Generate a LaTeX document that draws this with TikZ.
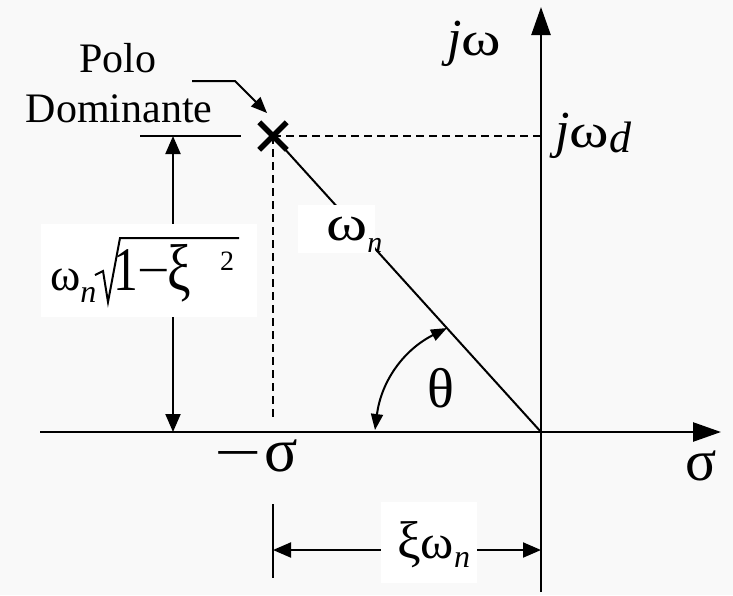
\documentclass[tikz,border=0pt]{standalone}
\usepackage{fontspec}
\setmainfont{Liberation Serif}
\usetikzlibrary{arrows.meta,shapes.misc}
\definecolor{bgc}{HTML}{F9F9F9}
% stretched omega: #1 font size, #2 horizontal scale
\newcommand{\gw}[2]{\scalebox{#2}[1]{\fontsize{#1}{#1}\selectfont ω}}
% subscript: #1 size, #2 lowering (pt), #3 text
\newcommand{\mysub}[3]{\raisebox{-#2pt}{\fontsize{#1}{#1}\selectfont\textit{#3}}}
\newcommand{\fs}[1]{\fontsize{#1}{#1}\selectfont}
\begin{document}
\begin{tikzpicture}[x=1pt,y=-1pt,
  axis/.style={line width=2.5pt,-{Triangle[length=28pt,width=19pt]}},
  thinline/.style={line width=2pt},
  dashline/.style={line width=1.6pt,dash pattern=on 8pt off 5pt},
  dimline/.style={line width=2pt,{Triangle[length=18pt,width=15pt]}-{Triangle[length=18pt,width=15pt]}},
  anglearrow/.style={line width=2pt,{Triangle[length=16pt,width=12pt]}-{Triangle[length=16pt,width=12pt]}},
  ptr/.style={line width=2pt,-{Triangle[length=16pt,width=13pt]}},
  wbox/.style={fill=white,draw=none,inner sep=0pt},
  txt/.style={inner sep=0pt,font=\fs{42}},
  gtxt/.style={inner sep=0pt,font=\fs{52}}]
\fill[bgc] (0,0) rectangle (733,595);
\useasboundingbox (0,0) rectangle (733,595);
% key points
\coordinate (O) at (541,432);
\coordinate (P) at (273,136);
\coordinate (xl) at (40,432);
\coordinate (xr) at (721,432);
\coordinate (yb) at (541,592);
\coordinate (yt) at (541,7);
% axes
\draw[axis] (xl) -- (xr);
\draw[axis] (yb) -- (yt);
% dashed projections
\coordinate (Pd) at (P -| O);
\coordinate (Pv) at (273,418);
\draw[dashline] (P) -- (Pd);
\draw[dashline] (P) -- (Pv);
% radius line
\draw[thinline] (P) -- (O);
\node[wbox,minimum width=77pt,minimum height=48pt] (wbx) at (336.5,229) {};
% pole cross
\node[cross out,draw,line width=5.5pt,minimum size=22pt,inner sep=0pt] (pole) at (P) {};
% left dimension
\coordinate (hl) at (140,136);
\coordinate (hr) at (241,136);
\draw[thinline] (hl) -- (hr);
\coordinate (dt) at (173,136);
\coordinate (db) at (173,432);
\draw[dimline] (dt) -- (db);
\node[wbox,minimum width=216pt,minimum height=93pt] (lbox) at (149,270.5) {};
% bottom dimension
\coordinate (vt) at (273,504);
\coordinate (vb) at (273,578);
\draw[thinline] (vt) -- (vb);
\coordinate (bl) at (273,550);
\coordinate (br) at (541,550);
\draw[dimline] (bl) -- (br);
\node[wbox,minimum width=96pt,minimum height=81pt] (xbox) at (429,542.5) {};
% angle arc
\coordinate (a1) at (375,430);
\coordinate (a2) at (447,328);
\draw[anglearrow] (a1) to[bend left=28] (a2);
% pointer to pole
\coordinate (p1) at (192,81);
\coordinate (p2) at (235,81);
\coordinate (p3) at (267,113);
\draw[ptr] (p1) -- (p2) -- (p3);
% texts
\node[txt,anchor=base] (polo) at (118,72) {Polo};
\node[txt,anchor=base] (dom) at (119,122) {Dominante};
\node[gtxt,anchor=base west] (jw) at (447,55) {\textit{j}\gw{48}{1.25}};
\node[gtxt,anchor=base west] (jwd) at (555,147) {\textit{j}\gw{48}{1.25}\mysub{44}{5}{d}};
\node[inner sep=0pt,anchor=base] (sig) at (701,480) {\fs{58}σ};
\node[inner sep=0pt,anchor=base west] (msig) at (214,471) {\scalebox{1.5}[1]{\fs{56}−}\hspace{3pt}\fs{62}σ};
\node[inner sep=0pt,anchor=base] (th) at (441,407) {\fs{56}θ};
\node[gtxt,anchor=base west] (wn) at (326,240) {\gw{50}{1.25}\mysub{30}{12}{n}};
\node[gtxt,anchor=base west] (xw) at (397,558) {\fs{53}ξ\gw{48}{1.05}\mysub{32}{9}{n}};
% left label: omega_n sqrt(1 - xi^2)
\node[gtxt,anchor=base west] (lw) at (50,290) {\gw{46}{1.0}\mysub{32}{12}{n}};
\draw[line width=2pt,line join=miter] (95,275) -- (103,271) -- (108,302) -- (120,238) -- (239,238);
\node[inner sep=0pt,anchor=base west] (rad) at (113,290) {\scalebox{0.8}[1]{\fs{62}1}\hspace{-1pt}\raisebox{4pt}{\scalebox{1.2}[1]{\fs{48}−}}\hspace{-2pt}\scalebox{0.8}[1]{\fs{66}ξ}\hspace{29pt}\raisebox{20pt}{\fs{28}2}};
\end{tikzpicture}
\end{document}
